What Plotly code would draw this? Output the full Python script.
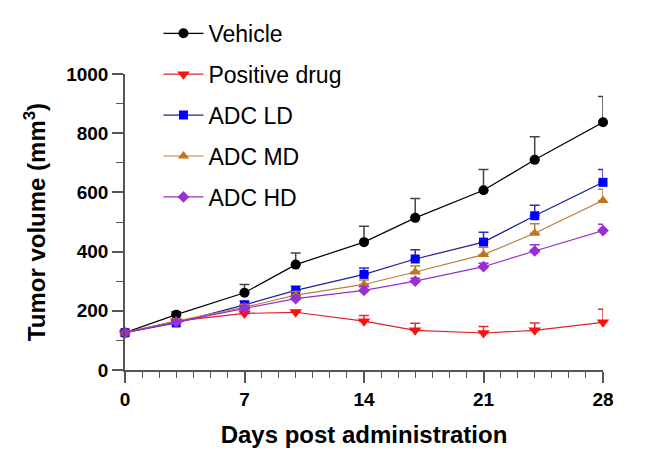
import plotly.graph_objects as go

days = [0, 3, 7, 10, 14, 17, 21, 24, 28]

vehicle = [126, 187, 261, 356, 432, 514, 607, 710, 837]
vehicle_err = [6, 10, 28, 39, 54, 65, 70, 78, 87]

positive = [126, 165, 191, 195, 165, 134, 125, 134, 161]
positive_err = [5, 8, 8, 8, 19, 24, 22, 25, 44]

adc_ld = [126, 159, 220, 269, 323, 375, 432, 521, 634]
adc_ld_err = [5, 8, 12, 14, 22, 31, 33, 36, 43]

adc_md = [126, 165, 212, 253, 289, 331, 390, 462, 573]
adc_md_err = [5, 8, 10, 12, 15, 20, 25, 32, 38]

adc_hd = [126, 162, 208, 241, 269, 300, 349, 402, 471]
adc_hd_err = [5, 6, 8, 10, 12, 10, 12, 21, 21]

series = [
    ("Vehicle", vehicle, vehicle_err, "#000000", "#000000", "#444444", "circle", 10),
    ("Positive drug", positive, positive_err, "#FF1010", "#E0202A", "#E03030", "triangle-down", 11),
    ("ADC LD", adc_ld, adc_ld_err, "#0000FF", "#20209A", "#3030B0", "square", 9),
    ("ADC MD", adc_md, adc_md_err, "#C0741C", "#B8803A", "#B8803A", "triangle-up", 10),
    ("ADC HD", adc_hd, adc_hd_err, "#9A2ED0", "#9A2ED0", "#9A2ED0", "diamond", 9),
]

fig = go.Figure()
for name, vals, err, mcol, lcol, ecol, sym, size in series:
    fig.add_trace(go.Scatter(
        x=days, y=vals, name=name, legendgroup=name, mode="lines+markers",
        line=dict(color=lcol, width=1.2),
        marker=dict(color=mcol, symbol=sym, size=size, line=dict(width=0)),
        error_y=dict(type="data", symmetric=False, array=err,
                     arrayminus=[0] * len(err), color=ecol, thickness=1.5, width=5),
        cliponaxis=False,
    ))

font_family = "Arial, Liberation Sans, sans-serif"
axis_col = "#555555"

fig.update_layout(
    width=672, height=469,
    margin=dict(l=125, r=69, t=70, b=99),
    plot_bgcolor="white", paper_bgcolor="white",
    font=dict(family=font_family, color="#000000"),
    showlegend=True,
    legend=dict(
        x=0.07, y=1.21, xanchor="left", yanchor="top",
        font=dict(size=23, family=font_family, color="#000000"),
        bgcolor="rgba(0,0,0,0)", traceorder="grouped", tracegroupgap=8,
        itemwidth=40,
    ),
    xaxis=dict(
        range=[0, 28], tickmode="array", tickvals=[0, 7, 14, 21, 28],
        showgrid=False, zeroline=False,
        showline=True, linecolor=axis_col, linewidth=1.5,
        ticks="outside", ticklen=11, tickwidth=1.5, tickcolor=axis_col,
        minor=dict(dtick=1, tick0=0, ticks="outside", ticklen=6, tickwidth=1.2, tickcolor=axis_col, showgrid=False),
        tickfont=dict(size=19, family=font_family, color="#000000", weight="bold"),
        title=dict(text="<b>Days post administration</b>", font=dict(size=24, family=font_family), standoff=18),
    ),
    yaxis=dict(
        range=[0, 1000], tickmode="array", tickvals=[0, 200, 400, 600, 800, 1000],
        showgrid=False, zeroline=False,
        showline=True, linecolor=axis_col, linewidth=1.5,
        ticks="outside", ticklen=11, tickwidth=1.5, tickcolor=axis_col,
        minor=dict(dtick=100, tick0=0, ticks="outside", ticklen=7, tickwidth=1.2, tickcolor=axis_col, showgrid=False),
        tickfont=dict(size=19, family=font_family, color="#000000", weight="bold"),
        title=dict(text="<b>Tumor volume (mm<sup>3</sup>)</b>", font=dict(size=24, family=font_family), standoff=14),
    ),
)

fig.write_html("out.html")
